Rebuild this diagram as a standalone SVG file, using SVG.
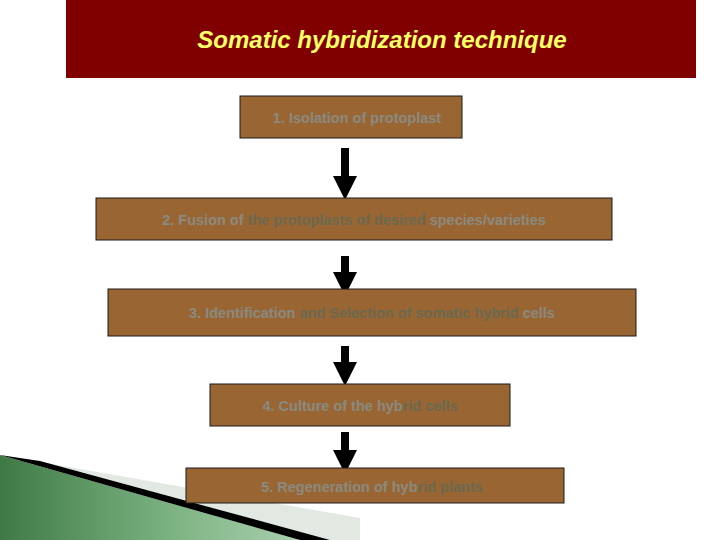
<svg xmlns="http://www.w3.org/2000/svg" width="720" height="540" viewBox="0 0 720 540">
<defs>
<style>
.box{fill:#996633;stroke:#1a1a1a;stroke-width:1}
.t{font-family:"Liberation Sans",Arial,sans-serif;font-size:14.5px;font-weight:bold;fill:#8a8a80;text-anchor:middle}
.d{fill:#6b6850}
</style>
<linearGradient id="g" x1="0" y1="0" x2="1" y2="0">
<stop offset="0" stop-color="#3f7a45"/><stop offset="0.6" stop-color="#7fb585"/><stop offset="1" stop-color="#aacfae"/>
</linearGradient>
<marker id="ah" markerWidth="3" markerHeight="3" refX="0.5" refY="1.5" orient="auto" markerUnits="strokeWidth"><path d="M0,0 L3,1.5 L0,3 Z" fill="#000"/></marker>
</defs>
<rect width="720" height="540" fill="#fff"/>
<g id="deco">
<polygon points="40,462 360,518 360,540 320,540" fill="#e2e8e2"/>
<polygon points="0,455 300,540 0,540" fill="url(#g)"/>
<polygon points="0,455 40,461 330,540 300,540" fill="#000"/>
</g>
<g id="header">
<rect x="66" y="0" width="630" height="78" fill="#800000"/>
<text x="382" y="48" font-family="Liberation Sans,Arial,sans-serif" font-size="24" font-weight="bold" font-style="italic" fill="#ffff66" text-anchor="middle">Somatic hybridization technique</text>
</g>
<g id="connectors" stroke="#000" stroke-width="8" marker-end="url(#ah)">
<line x1="345" y1="148" x2="345" y2="180"/>
<line x1="345" y1="256" x2="345" y2="276"/>
<line x1="345" y1="346" x2="345" y2="366"/>
<line x1="345" y1="432" x2="345" y2="454"/>
</g>
<g id="n1"><rect class="box" x="240" y="96" width="222" height="42"/><text class="t" x="357" y="123">1. Isolation of protoplast</text></g>
<g id="n2"><rect class="box" x="96" y="198" width="516" height="42"/><text class="t" x="354" y="225">2. Fusion of <tspan class="d">the protoplasts of desired</tspan> species/varieties</text></g>
<g id="n3"><rect class="box" x="108" y="289" width="528" height="47"/><text class="t" x="372" y="318">3. Identification <tspan class="d">and Selection of somatic hybrid</tspan> cells</text></g>
<g id="n4"><rect class="box" x="210" y="384" width="300" height="42"/><text class="t" x="360" y="411">4. Culture of the hyb<tspan class="d">rid cells</tspan></text></g>
<g id="n5"><rect class="box" x="186" y="468" width="378" height="35"/><text class="t" x="372" y="492">5. Regeneration of hyb<tspan class="d">rid plants</tspan></text></g>
</svg>
